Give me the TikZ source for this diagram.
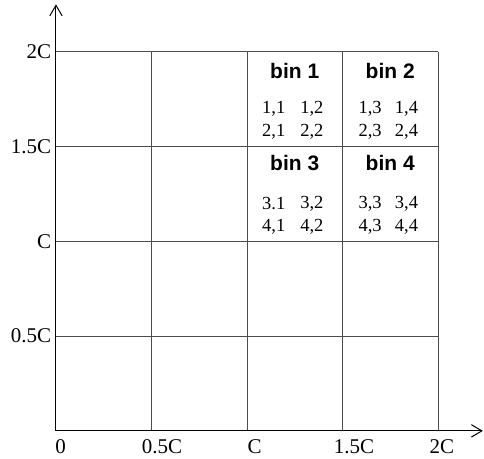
\documentclass[tikz,border=0pt]{standalone}
\usepackage{fontspec}
\setmainfont{Liberation Serif}
\setsansfont{Liberation Sans}
\usetikzlibrary{arrows.meta}

\begin{document}
\begin{tikzpicture}[
    x=2cm, y=1.985cm,
    axis/.style={-{Straight Barb[length=2.2mm, width=2.6mm]}, line width=0.6pt},
    gridline/.style={draw=black!70, line width=0.5pt},
    ticklabel/.style={font=\fontsize{12.5}{14}\selectfont, inner sep=1pt},
    binlabel/.style={font=\sffamily\bfseries\fontsize{12.5}{14}\selectfont, inner sep=0pt},
    entry/.style={font=\fontsize{11}{13}\selectfont, inner sep=0pt}
]
\useasboundingbox (-0.586,-0.295) rectangle (4.482,4.546);

% grid of the four by four cells
\foreach \i in {0.5,1,1.5,2} {
    \draw[gridline] (0,2*\i) -- (4,2*\i);
    \draw[gridline] (2*\i,0) -- (2*\i,4);
}

% axes
\coordinate (origin) at (0,0);
\coordinate (xend) at (4.47,0);
\coordinate (yend) at (0,4.50);
\draw[axis] (origin) -- (xend);
\draw[axis] (origin) -- (yend);

% axis labels
\node[ticklabel] (x0) at (0.05,-0.17) {0};
\node[ticklabel] (x1) at (1.11,-0.17) {0.5C};
\node[ticklabel] (x2) at (2.08,-0.17) {C};
\node[ticklabel] (x3) at (3.12,-0.17) {1.5C};
\node[ticklabel] (x4) at (4.04,-0.17) {2C};
\node[ticklabel, anchor=east] (y1) at (-0.03,1) {0.5C};
\node[ticklabel, anchor=east] (y2) at (-0.03,2) {C};
\node[ticklabel, anchor=east] (y3) at (-0.03,3) {1.5C};
\node[ticklabel, anchor=east] (y4) at (-0.03,4) {2C};

% bins
\node[binlabel] (bin1) at (2.5,3.80) {bin 1};
\node[binlabel] (bin2) at (3.5,3.80) {bin 2};
\node[binlabel] (bin3) at (2.5,2.83) {bin 3};
\node[binlabel] (bin4) at (3.5,2.83) {bin 4};

% cell entries
\node[entry] (e11) at (2.28,3.40) {1,1};
\node[entry] (e12) at (2.68,3.40) {1,2};
\node[entry] (e13) at (3.29,3.40) {1,3};
\node[entry] (e14) at (3.67,3.40) {1,4};
\node[entry] (e21) at (2.28,3.155) {2,1};
\node[entry] (e22) at (2.68,3.155) {2,2};
\node[entry] (e23) at (3.29,3.155) {2,3};
\node[entry] (e24) at (3.67,3.155) {2,4};
\node[entry] (e31) at (2.28,2.395) {3.1};
\node[entry] (e32) at (2.68,2.395) {3,2};
\node[entry] (e33) at (3.29,2.395) {3,3};
\node[entry] (e34) at (3.67,2.395) {3,4};
\node[entry] (e41) at (2.28,2.15) {4,1};
\node[entry] (e42) at (2.68,2.15) {4,2};
\node[entry] (e43) at (3.29,2.15) {4,3};
\node[entry] (e44) at (3.67,2.15) {4,4};
\end{tikzpicture}
\end{document}
